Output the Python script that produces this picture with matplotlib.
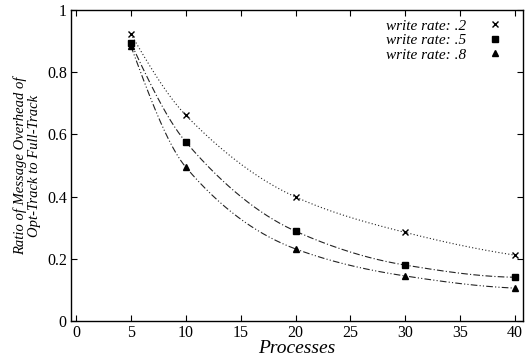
import numpy as np
import matplotlib.pyplot as plt
from matplotlib.lines import Line2D

plt.rcParams.update({
    "font.family": "serif",
    "font.serif": ["Liberation Serif", "DejaVu Serif"],
    "font.size": 11,
})

processes = [5, 10, 20, 30, 40]
rate_02 = [0.923, 0.662, 0.399, 0.285, 0.212]
rate_05 = [0.894, 0.576, 0.289, 0.180, 0.141]
rate_08 = [0.884, 0.495, 0.232, 0.145, 0.106]
labels = ["write rate: .2", "write rate: .5", "write rate: .8"]


def smooth_curve(x, y, n=300):
    # monotone cubic (Fritsch-Carlson) through the data points
    x = np.asarray(x, float)
    y = np.asarray(y, float)
    h = np.diff(x)
    d = np.diff(y) / h
    m = np.zeros_like(y)
    m[0], m[-1] = d[0], d[-1]
    for i in range(1, len(x) - 1):
        if d[i - 1] * d[i] > 0:
            w1 = 2 * h[i] + h[i - 1]
            w2 = h[i] + 2 * h[i - 1]
            m[i] = (w1 + w2) / (w1 / d[i - 1] + w2 / d[i])
    # end slopes (3-point estimate)
    m[0] = ((2 * h[0] + h[1]) * d[0] - h[0] * d[1]) / (h[0] + h[1])
    m[-1] = ((2 * h[-1] + h[-2]) * d[-1] - h[-1] * d[-2]) / (h[-1] + h[-2])
    xs = np.linspace(x[0], x[-1], n)
    idx = np.clip(np.searchsorted(x, xs) - 1, 0, len(x) - 2)
    t = (xs - x[idx]) / h[idx]
    h00 = 2 * t**3 - 3 * t**2 + 1
    h10 = t**3 - 2 * t**2 + t
    h01 = -2 * t**3 + 3 * t**2
    h11 = t**3 - t**2
    ys = h00 * y[idx] + h10 * h[idx] * m[idx] + h01 * y[idx + 1] \
        + h11 * h[idx] * m[idx + 1]
    return xs, ys


fig = plt.figure(figsize=(5.26, 3.56), dpi=100)
ax = fig.add_axes([0.135, 0.098, 0.859, 0.874])

series = [
    (rate_02, (0, (1, 2)), "x", 5),
    (rate_05, (0, (6, 2, 1, 2)), "s", 4.5),
    (rate_08, (0, (6, 2, 1, 2, 1, 2)), "^", 5),
]
handles = []
for vals, ls, mk, ms in series:
    xs, ys = smooth_curve(processes, vals)
    ax.plot(xs, ys, color="#222222", lw=0.8, linestyle=ls)
    ax.plot(processes, vals, linestyle="none", marker=mk, ms=ms,
            color="black", mew=1.0)
    handles.append(Line2D([], [], linestyle="none", marker=mk, ms=ms,
                          color="black", mew=1.0))

ax.set_xlim(-0.45, 40.7)
ax.set_ylim(0, 1)
ax.set_xticks(range(0, 41, 5))
ax.set_yticks([0, 0.2, 0.4, 0.6, 0.8, 1])
ax.set_yticklabels(["0", "0.2", "0.4", "0.6", "0.8", "1"])
ax.tick_params(direction="in", top=True, right=True, length=4, width=0.8,
               labelsize=11.5, pad=3)
for s in ax.spines.values():
    s.set_linewidth(1.0)

ax.set_xlabel("Processes", fontsize=14, style="italic", labelpad=-1)
ax.set_ylabel("Ratio of Message Overhead of\nOpt-Track to Full-Track",
              fontsize=10.5, style="italic", labelpad=4, linespacing=1.15)

ax.legend(handles, labels, loc="upper right", frameon=False,
          markerfirst=False, prop={"style": "italic", "size": 11},
          handlelength=1.5, handletextpad=1.2, labelspacing=0.05,
          borderaxespad=0.2, bbox_to_anchor=(0.985, 1.0))

fig.savefig("out.png", dpi=100)
